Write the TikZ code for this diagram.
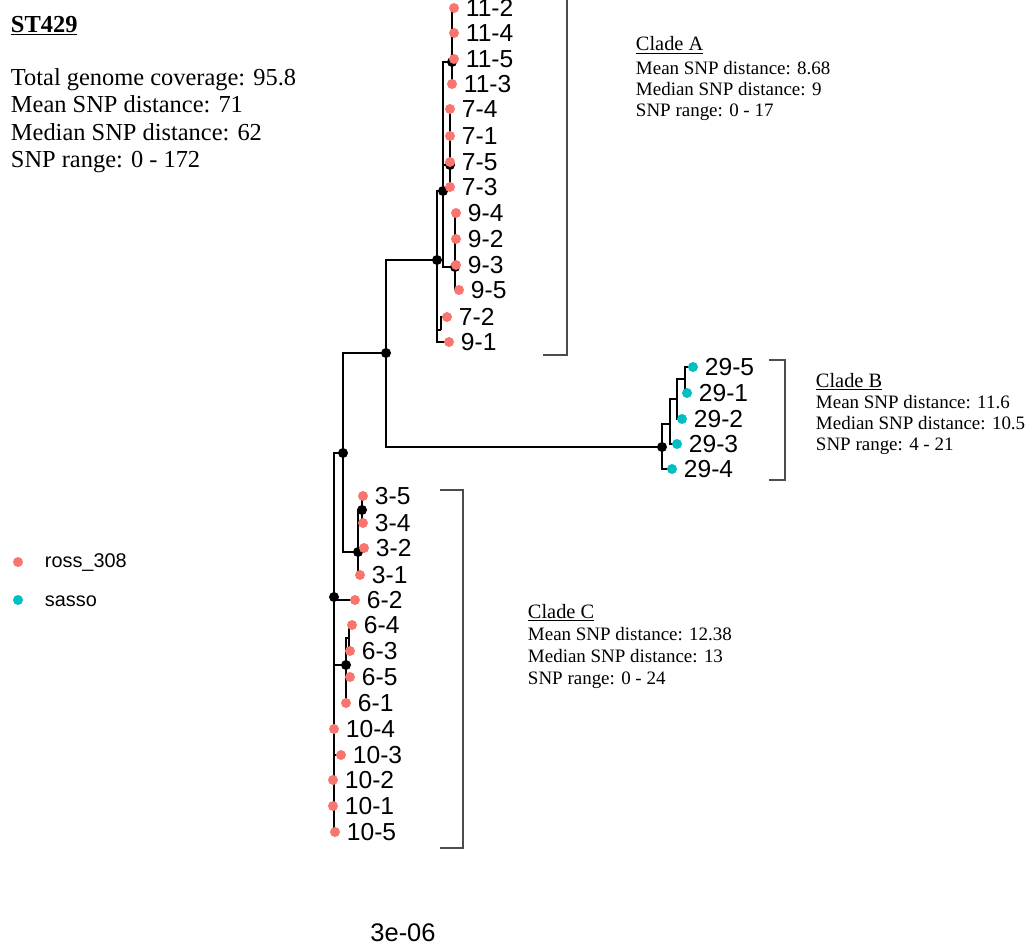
\documentclass[tikz,border=0pt]{standalone}
\usepackage{fontspec}
\setmainfont{Liberation Serif}
\setsansfont{Liberation Sans}
\definecolor{ross}{HTML}{F8766D}
\definecolor{sasso}{HTML}{00BFC4}
\begin{document}
\begin{tikzpicture}[x=0.02cm, y=-0.02cm, line width=1.1pt,
  knot/.style={circle, fill=black, inner sep=0pt, minimum size=0.2cm},
  tipR/.style={circle, fill=ross, inner sep=0pt, minimum size=0.2cm},
  tipS/.style={circle, fill=sasso, inner sep=0pt, minimum size=0.2cm},
  tiplab/.style={inner sep=0pt, font=\sffamily\fontsize{14}{16}\selectfont},
  label distance=0.1cm,
  bracket/.style={draw=black!70, line width=0.75pt},
  info/.style={anchor=base west, inner sep=0pt, font=\fontsize{10.8}{13}\selectfont},
  cladehead/.style={anchor=base west, inner sep=0pt, font=\fontsize{11.6}{14}\selectfont},
  head/.style={anchor=base west, inner sep=0pt, font=\fontsize{13.9}{16}\selectfont}]
\useasboundingbox (0,0) rectangle (1027,950);

% inner nodes
\coordinate (nR) at (334,597);
\coordinate (nU) at (343,453);
\coordinate (nAB) at (386,353);
\coordinate (nA) at (437,260);
\coordinate (nA1) at (443,191);
\coordinate (n11) at (452,62);
\coordinate (n7) at (450,165);
\coordinate (n9) at (455,267);
\coordinate (c72) at (441,330);
\coordinate (nB) at (662,447);
\coordinate (cB1) at (670,424);
\coordinate (cB2) at (677,399);
\coordinate (cB3) at (685,379);
\coordinate (n3) at (358,552);
\coordinate (n34) at (362,510);
\coordinate (n6) at (346,665);
\coordinate (c64) at (349,638);

% tips
\coordinate (t11-2) at (454,8);   \coordinate (t11-4) at (454,33);
\coordinate (t11-5) at (454,59);  \coordinate (t11-3) at (452,84);
\coordinate (t7-4) at (450,109);  \coordinate (t7-1) at (450,136);
\coordinate (t7-5) at (450,162);  \coordinate (t7-3) at (450,187);
\coordinate (t9-4) at (456,213);  \coordinate (t9-2) at (456,239);
\coordinate (t9-3) at (456,265);  \coordinate (t9-5) at (459,290);
\coordinate (t7-2) at (447,317);  \coordinate (t9-1) at (449,342);
\coordinate (t29-5) at (693,367); \coordinate (t29-1) at (687,393);
\coordinate (t29-2) at (682,419); \coordinate (t29-3) at (677,444);
\coordinate (t29-4) at (672,469);
\coordinate (t3-5) at (363,496);  \coordinate (t3-4) at (363,523);
\coordinate (t3-2) at (364,548);  \coordinate (t3-1) at (360,575);
\coordinate (t6-2) at (355,600);  \coordinate (t6-4) at (352,625);
\coordinate (t6-3) at (350,651);  \coordinate (t6-5) at (350,677);
\coordinate (t6-1) at (346,703);
\coordinate (t10-4) at (334,729); \coordinate (t10-3) at (341,755);
\coordinate (t10-2) at (333,780); \coordinate (t10-1) at (333,806);
\coordinate (t10-5) at (335,832);

% branches
\draw (nR) |- (nU) (nR) |- (t6-2) (nR) |- (n6);
\draw (nR) |- (t10-4) (nR) |- (t10-3) (nR) |- (t10-2) (nR) |- (t10-1) (nR) |- (t10-5);
\draw (nU) |- (nAB) (nU) |- (n3);
\draw (nAB) |- (nA) (nAB) |- (nB);
\draw (nA) |- (nA1) (nA) |- (c72) (c72) |- (t7-2) (nA) |- (t9-1);
\draw (nA1) |- (n11) (nA1) |- (n7) (nA1) |- (n9);
\draw (n11) |- (t11-2) (n11) |- (t11-4) (n11) |- (t11-5) (n11) |- (t11-3);
\draw (n7) |- (t7-4) (n7) |- (t7-1) (n7) |- (t7-5) (n7) |- (t7-3);
\draw (n9) |- (t9-4) (n9) |- (t9-2) (n9) |- (t9-3) (n9) |- (t9-5);
\draw (nB) |- (cB1) (nB) |- (t29-4);
\draw (cB1) |- (cB2) (cB1) |- (t29-3);
\draw (cB2) |- (cB3) (cB2) |- (t29-2);
\draw (cB3) |- (t29-5) (cB3) |- (t29-1);
\draw (n3) |- (n34) (n3) |- (t3-2) (n3) |- (t3-1);
\draw (n34) |- (t3-5) (n34) |- (t3-4);
\draw (n6) |- (c64) (n6) |- (t6-5) (n6) |- (t6-1);
\draw (c64) |- (t6-4) (c64) |- (t6-3);

% node points
\node[knot] (kR) at (nR) {};    \node[knot] (kU) at (nU) {};
\node[knot] (kAB) at (nAB) {};  \node[knot] (kA) at (nA) {};
\node[knot] (kA1) at (nA1) {};  \node[knot] (k11) at (n11) {};
\node[knot] (k7) at (n7) {};    \node[knot] (k9) at (n9) {};
\node[knot] (kB) at (nB) {};    \node[knot] (k3) at (n3) {};
\node[knot] (k34) at (n34) {};  \node[knot] (k6) at (n6) {};

% tip points
\node[tipR, label={[tiplab]right:11-2}] (d11-2) at (t11-2) {};
\node[tipR, label={[tiplab]right:11-4}] (d11-4) at (t11-4) {};
\node[tipR, label={[tiplab]right:11-5}] (d11-5) at (t11-5) {};
\node[tipR, label={[tiplab]right:11-3}] (d11-3) at (t11-3) {};
\node[tipR, label={[tiplab]right:7-4}] (d7-4) at (t7-4) {};
\node[tipR, label={[tiplab]right:7-1}] (d7-1) at (t7-1) {};
\node[tipR, label={[tiplab]right:7-5}] (d7-5) at (t7-5) {};
\node[tipR, label={[tiplab]right:7-3}] (d7-3) at (t7-3) {};
\node[tipR, label={[tiplab]right:9-4}] (d9-4) at (t9-4) {};
\node[tipR, label={[tiplab]right:9-2}] (d9-2) at (t9-2) {};
\node[tipR, label={[tiplab]right:9-3}] (d9-3) at (t9-3) {};
\node[tipR, label={[tiplab]right:9-5}] (d9-5) at (t9-5) {};
\node[tipR, label={[tiplab]right:7-2}] (d7-2) at (t7-2) {};
\node[tipR, label={[tiplab]right:9-1}] (d9-1) at (t9-1) {};
\node[tipS, label={[tiplab]right:29-5}] (d29-5) at (t29-5) {};
\node[tipS, label={[tiplab]right:29-1}] (d29-1) at (t29-1) {};
\node[tipS, label={[tiplab]right:29-2}] (d29-2) at (t29-2) {};
\node[tipS, label={[tiplab]right:29-3}] (d29-3) at (t29-3) {};
\node[tipS, label={[tiplab]right:29-4}] (d29-4) at (t29-4) {};
\node[tipR, label={[tiplab]right:3-5}] (d3-5) at (t3-5) {};
\node[tipR, label={[tiplab]right:3-4}] (d3-4) at (t3-4) {};
\node[tipR, label={[tiplab]right:3-2}] (d3-2) at (t3-2) {};
\node[tipR, label={[tiplab]right:3-1}] (d3-1) at (t3-1) {};
\node[tipR, label={[tiplab]right:6-2}] (d6-2) at (t6-2) {};
\node[tipR, label={[tiplab]right:6-4}] (d6-4) at (t6-4) {};
\node[tipR, label={[tiplab]right:6-3}] (d6-3) at (t6-3) {};
\node[tipR, label={[tiplab]right:6-5}] (d6-5) at (t6-5) {};
\node[tipR, label={[tiplab]right:6-1}] (d6-1) at (t6-1) {};
\node[tipR, label={[tiplab]right:10-4}] (d10-4) at (t10-4) {};
\node[tipR, label={[tiplab]right:10-3}] (d10-3) at (t10-3) {};
\node[tipR, label={[tiplab]right:10-2}] (d10-2) at (t10-2) {};
\node[tipR, label={[tiplab]right:10-1}] (d10-1) at (t10-1) {};
\node[tipR, label={[tiplab]right:10-5}] (d10-5) at (t10-5) {};

% clade brackets
\draw[bracket] (567,0) -- (567,355) -- (543,355);
\draw[bracket] (769,360) -- (785,360) -- (785,480) -- (769,480);
\draw[bracket] (440,490) -- (463,490) -- (463,848) -- (440,848);

% clade notes
\node[cladehead] (hA) at (635,51) {\underline{Clade A}};
\node[info] (mA) at (635,74) {Mean SNP distance: 8.68};
\node[info] (dA) at (635,95) {Median SNP distance: 9};
\node[info] (rA) at (635,116) {SNP range: 0 - 17};
\node[cladehead] (hB) at (815,387) {\underline{Clade B}};
\node[info] (mB) at (815,408) {Mean SNP distance: 11.6};
\node[info] (dB) at (815,429) {Median SNP distance: 10.5};
\node[info] (rB) at (815,450) {SNP range: 4 - 21};
\node[cladehead] (hC) at (527,618) {\underline{Clade C}};
\node[info] (mC) at (527,640) {Mean SNP distance: 12.38};
\node[info] (dC) at (527,662) {Median SNP distance: 13};
\node[info] (rC) at (527,684) {SNP range: 0 - 24};

% header
\node[head, font=\fontsize{13.9}{16}\selectfont\bfseries] (st) at (10,32) {\underline{ST429}};
\node[head] (cov) at (10,85) {Total genome coverage: 95.8};
\node[head] (mean) at (10,112) {Mean SNP distance: 71};
\node[head] (med) at (10,140) {Median SNP distance: 62};
\node[head] (rng) at (10,167) {SNP range: 0 - 172};

% legend
\node[tipR] (lgR) at (18,562) {};
\node[anchor=base west, inner sep=0pt, font=\sffamily\fontsize{11.3}{13}\selectfont] (lgRt) at (44,567) {ross\_308};
\node[tipS] (lgS) at (18,600) {};
\node[anchor=base west, inner sep=0pt, font=\sffamily\fontsize{11.3}{13}\selectfont] (lgSt) at (44,606) {sasso};

% scale
\node[font=\sffamily\fontsize{14.5}{17}\selectfont] (scale) at (403,933) {3e-06};
\end{tikzpicture}
\end{document}
